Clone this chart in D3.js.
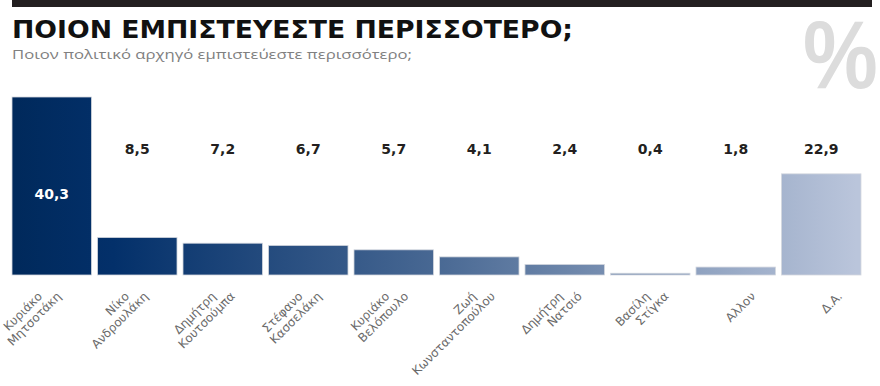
<!DOCTYPE html>
<html>
<head>
<meta charset="utf-8">
<script src="https://cdn.jsdelivr.net/npm/d3@7"></script>
<style>
  body { margin: 0; background: #fff; }
  svg { display: block; }
</style>
</head>
<body>
<div id="chart"></div>
<script>
const names = ["Κυριάκο Μητσοτάκη", "Νίκο Ανδρουλάκη", "Δημήτρη Κουτσούμπα", "Στέφανο Κασσελάκη",
  "Κυριάκο Βελόπουλο", "Ζωή Κωνσταντοπούλου", "Δημήτρη Νατσιό", "Βασίλη Στίγκα", "Αλλον", "Δ.Α."];
const values = [40.3, 8.5, 7.2, 6.7, 5.7, 4.1, 2.4, 0.4, 1.8, 22.9];
const valueLabels = ["40,3", "8,5", "7,2", "6,7", "5,7", "4,1", "2,4", "0,4", "1,8", "22,9"];
const title = "ΠΟΙΟΝ ΕΜΠΙΣΤΕΥΕΣΤΕ ΠΕΡΙΣΣΟΤΕΡΟ;";
const subtitle = "Ποιον πολιτικό αρχηγό εμπιστεύεστε περισσότερο;";

const width = 880, height = 386;
const baseY = 275;

const svg = d3.select('#chart').append('svg')
  .attr('width', width)
  .attr('height', height);

// top rule + headings
svg.append('rect').attr('x', 12).attr('y', 0).attr('width', 860).attr('height', 7).attr('fill', '#231f20');

svg.append('text')
  .attr('transform', 'translate(803,88) scale(1.05,1.2)')
  .style('font-family', 'Liberation Sans')
  .style('font-weight', 'bold')
  .style('font-size', '80px')
  .attr('fill', '#dcdcdc')
  .text('%');

svg.append('text')
  .attr('x', 12).attr('y', 38)
  .attr('textLength', 561).attr('lengthAdjust', 'spacingAndGlyphs')
  .style('font-family', 'DejaVu Sans')
  .style('font-weight', 'bold')
  .style('font-size', '25.5px')
  .attr('fill', '#111')
  .text(title);

svg.append('text')
  .attr('x', 12).attr('y', 58.5)
  .attr('textLength', 400).attr('lengthAdjust', 'spacingAndGlyphs')
  .style('font-family', 'Open Sans')
  .style('font-size', '13.5px')
  .attr('fill', '#808080')
  .text(subtitle);

// scales
const x = d3.scaleBand()
  .domain(names)
  .range([12, 861])
  .paddingInner(0.07)
  .paddingOuter(0);

const y = d3.scaleLinear()
  .domain([0, 40.3])
  .range([baseY, 97]);

const lx = d3.scalePoint()
  .domain(names)
  .range([62, 843]);

// one gradient across the whole row, each bar shows its own slice
const grad = svg.append('defs').append('linearGradient')
  .attr('id', 'barGrad')
  .attr('gradientUnits', 'userSpaceOnUse')
  .attr('x1', 12).attr('x2', 856).attr('y1', 0).attr('y2', 0);
grad.append('stop').attr('offset', '0%').attr('stop-color', '#00295b');
grad.append('stop').attr('offset', '12%').attr('stop-color', '#03306a');
grad.append('stop').attr('offset', '50%').attr('stop-color', '#486893');
grad.append('stop').attr('offset', '100%').attr('stop-color', '#bac5db');

svg.selectAll('.bar')
  .data(names)
  .enter()
  .append('rect')
  .attr('class', 'bar')
  .attr('x', d => x(d))
  .attr('y', (d, i) => y(values[i]))
  .attr('width', x.bandwidth())
  .attr('height', (d, i) => baseY - y(values[i]))
  .attr('fill', 'url(#barGrad)')
  .attr('stroke', '#d4d8df')
  .attr('stroke-width', 0.8);

// value labels
svg.selectAll('.val')
  .data(names)
  .enter()
  .append('text')
  .attr('class', 'val')
  .attr('x', d => x(d) + x.bandwidth() / 2)
  .attr('y', (d, i) => i === 0 ? 199 : 154)
  .attr('text-anchor', 'middle')
  .style('font-family', 'DejaVu Sans')
  .style('font-weight', 'bold')
  .style('font-size', '14px')
  .attr('fill', (d, i) => i === 0 ? '#fff' : '#231f20')
  .text((d, i) => valueLabels[i]);

// rotated category labels, last line ends at the anchor
const lab = svg.selectAll('.lab')
  .data(names)
  .enter()
  .append('text')
  .attr('class', 'lab')
  .attr('transform', d => `translate(${lx(d)},297) rotate(-45)`)
  .attr('text-anchor', 'end')
  .style('font-family', 'DejaVu Sans')
  .style('font-size', '12px')
  .attr('fill', '#6a6a6a');

lab.each(function (d) {
  const parts = d.split(' ');
  const n = parts.length;
  parts.forEach((p, j) => {
    const k = n - 1 - j;
    d3.select(this).append('tspan')
      .attr('x', -13.4 * k)
      .attr('y', -13.4 * k)
      .text(p);
  });
});
</script>
</body>
</html>
